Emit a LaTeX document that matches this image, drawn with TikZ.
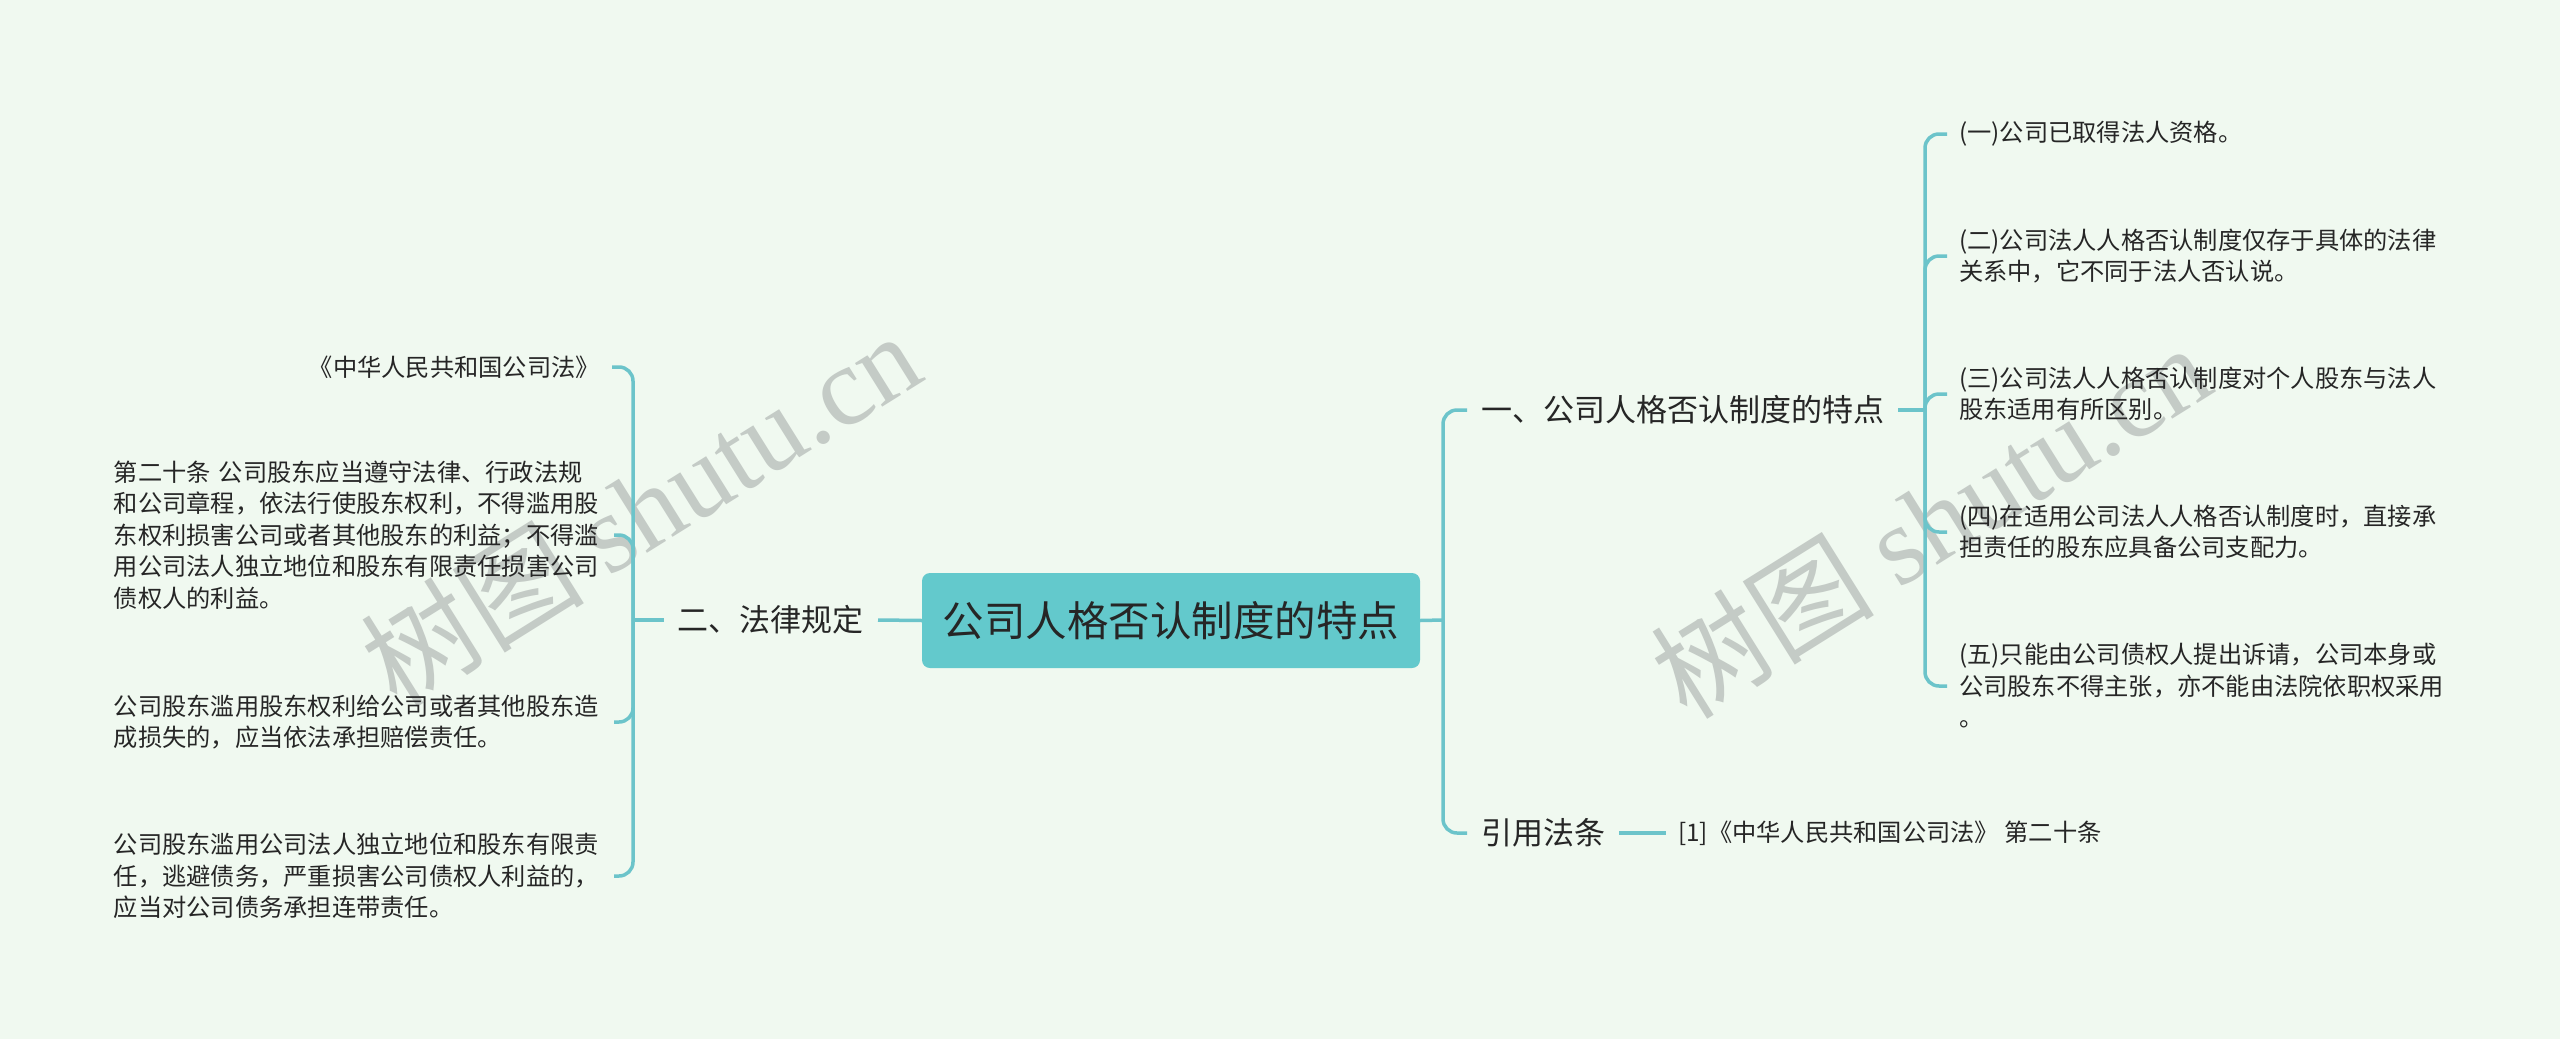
\documentclass[tikz,border=0pt]{standalone}
\usepackage{fontspec}
\setmainfont{Noto Sans CJK SC}
\newfontfamily\wmserif{Liberation Serif}
\definecolor{bg}{RGB}{240,249,240}
\definecolor{ln}{RGB}{108,196,202}
\definecolor{rootfill}{RGB}{99,201,204}
\definecolor{txt}{RGB}{38,38,38}
\definecolor{wmc}{RGB}{196,203,198}
\begin{document}
\begin{tikzpicture}[x=1pt,y=-1pt,
  conn/.style={draw=ln, line width=3.5pt, rounded corners=14pt},
  rootbox/.style={fill=rootfill, rounded corners=8pt, minimum width=498pt, minimum height=95pt, font=\fontsize{41.5}{48}\selectfont, text=txt, inner sep=0pt},
  midtext/.style={font=\fontsize{31}{38}\selectfont, text=txt, inner xsep=14pt, inner ysep=0pt},
  leaf/.style={font=\fontsize{24.25}{31.5}\selectfont, text=txt, inner xsep=12pt, inner ysep=0pt, align=left},
  wide/.style={text width=488pt},
  wmark/.style={font=\fontsize{112}{120}\selectfont, text=wmc, rotate=32, inner sep=0pt},
]
\fill[bg] (0,0) rectangle (2560,1039);
\useasboundingbox (0,0) rectangle (2560,1039);

% watermarks
\node[wmark] (wm1) at (640,508) {树图 {\wmserif shutu.cn}};
\node[wmark] (wm2) at (1930,520) {树图 {\wmserif shutu.cn}};

% root
\node[rootbox] (root) at (1171,620.5) {公司人格否认制度的特点};

% left side
\node[midtext, anchor=east] (law) at (878,620) {二、法律规定};
\coordinate (lj) at (633,620);
\node[leaf, anchor=east] (L1) at (612,367) {《中华人民共和国公司法》};
\node[leaf, wide, anchor=east] (L2) at (614,535) {第二十条 公司股东应当遵守法律、行政法规\\和公司章程，依法行使股东权利，不得滥用股\\东权利损害公司或者其他股东的利益；不得滥\\用公司法人独立地位和股东有限责任损害公司\\债权人的利益。};
\node[leaf, wide, anchor=east] (L3) at (614,722) {公司股东滥用股东权利给公司或者其他股东造\\成损失的，应当依法承担赔偿责任。};
\node[leaf, wide, anchor=east] (L4) at (614,876) {公司股东滥用公司法人独立地位和股东有限责\\任，逃避债务，严重损害公司债权人利益的，\\应当对公司债务承担连带责任。};

\draw[conn] (root.west) -- (law.east);
\draw[conn] (law.west) -- (lj);
\draw[conn] (lj) |- (L1.east);
\draw[conn] (lj) |- (L2.east);
\draw[conn] (lj) |- (L3.east);
\draw[conn] (lj) |- (L4.east);

% right side
\coordinate (mj) at (1443,620);
\node[midtext, anchor=west] (feat) at (1467,410) {一、公司人格否认制度的特点};
\node[midtext, anchor=west] (cite) at (1467,833) {引用法条};
\node[leaf, anchor=west] (cref) at (1666,833) {[1]《中华人民共和国公司法》 第二十条};
\draw[conn] (root.east) -- (mj);
\draw[conn] (mj) |- (feat.west);
\draw[conn] (mj) |- (cite.west);
\draw[conn] (cite.east) -- (cref.west);

\coordinate (rj) at (1925,410);
\node[leaf, anchor=west] (R1) at (1947,134) {(一)公司已取得法人资格。};
\node[leaf, wide, anchor=west] (R2) at (1947,256) {(二)公司法人人格否认制度仅存于具体的法律\\关系中，它不同于法人否认说。};
\node[leaf, wide, anchor=west] (R3) at (1947,394) {(三)公司法人人格否认制度对个人股东与法人\\股东适用有所区别。};
\node[leaf, wide, anchor=west] (R4) at (1947,532) {(四)在适用公司法人人格否认制度时，直接承\\担责任的股东应具备公司支配力。};
\node[leaf, wide, anchor=west] (R5) at (1947,686) {(五)只能由公司债权人提出诉请，公司本身或\\公司股东不得主张，亦不能由法院依职权采用\\。};
\draw[conn] (feat.east) -- (rj);
\draw[conn] (rj) |- (R1.west);
\draw[conn] (rj) |- (R2.west);
\draw[conn] (rj) |- (R3.west);
\draw[conn] (rj) |- (R4.west);
\draw[conn] (rj) |- (R5.west);
\end{tikzpicture}
\end{document}
